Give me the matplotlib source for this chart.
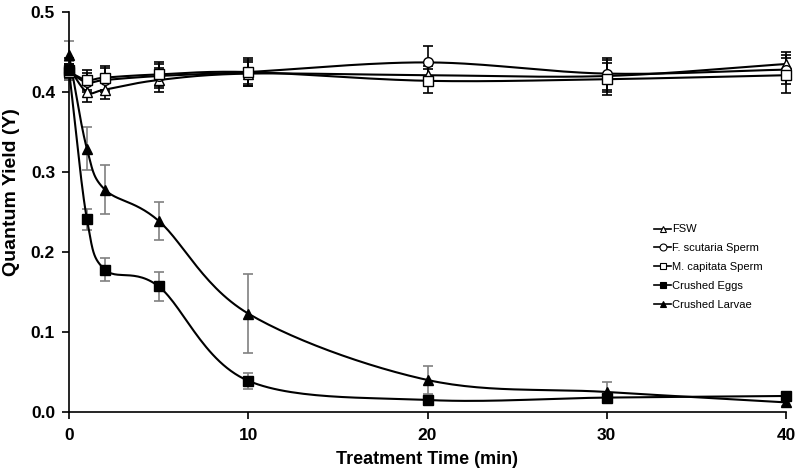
import matplotlib
matplotlib.use("Agg")
import matplotlib.pyplot as plt
import numpy as np

# treatment time (min)
time = [0, 1, 2, 5, 10, 20, 30, 40]

fsw = [0.430, 0.400, 0.403, 0.415, 0.423, 0.421, 0.420, 0.435]
fsw_err = [0.012, 0.012, 0.012, 0.015, 0.015, 0.012, 0.020, 0.015]

fscut = [0.425, 0.412, 0.415, 0.420, 0.425, 0.437, 0.423, 0.428]
fscut_err = [0.010, 0.012, 0.015, 0.015, 0.015, 0.020, 0.020, 0.018]

mcap = [0.425, 0.415, 0.418, 0.422, 0.425, 0.414, 0.416, 0.421]
mcap_err = [0.010, 0.012, 0.015, 0.015, 0.018, 0.015, 0.020, 0.022]

eggs = [0.427, 0.241, 0.178, 0.157, 0.039, 0.015, 0.018, 0.020]
eggs_err = [0.012, 0.013, 0.014, 0.018, 0.010, 0.003, 0.005, 0.003]

larvae = [0.446, 0.329, 0.278, 0.239, 0.123, 0.040, 0.025, 0.012]
larvae_err = [0.018, 0.027, 0.031, 0.024, 0.049, 0.017, 0.012, 0.004]

labels = ["FSW", "F. scutaria Sperm", "M. capitata Sperm", "Crushed Eggs", "Crushed Larvae"]


def smooth(x, y, n=30):
    # catmull-rom style smoothing, like excel's "smoothed line"
    x = np.asarray(x, float)
    y = np.asarray(y, float)
    px = np.concatenate([[2 * x[0] - x[1]], x, [2 * x[-1] - x[-2]]])
    py = np.concatenate([[2 * y[0] - y[1]], y, [2 * y[-1] - y[-2]]])
    xs, ys = [], []
    t = np.linspace(0, 1, n)
    for i in range(1, len(px) - 2):
        p0, p1, p2, p3 = px[i - 1], px[i], px[i + 1], px[i + 2]
        q0, q1, q2, q3 = py[i - 1], py[i], py[i + 1], py[i + 2]
        # bezier control points with tension 1/6
        c1x = p1 + (p2 - p0) / 6
        c2x = p2 - (p3 - p1) / 6
        c1y = q1 + (q2 - q0) / 6
        c2y = q2 - (q3 - q1) / 6
        bx = (1 - t) ** 3 * p1 + 3 * (1 - t) ** 2 * t * c1x + 3 * (1 - t) * t ** 2 * c2x + t ** 3 * p2
        by = (1 - t) ** 3 * q1 + 3 * (1 - t) ** 2 * t * c1y + 3 * (1 - t) * t ** 2 * c2y + t ** 3 * q2
        xs.extend(bx)
        ys.extend(by)
    return xs, ys


plt.rcParams['font.family'] = ['Liberation Sans', 'DejaVu Sans']

fig = plt.figure(figsize=(8, 4.73), dpi=100)
ax = fig.add_axes([0.08625, 0.129, 0.89625, 0.8456])

series = [
    (fsw, fsw_err, '^', 'white', 'black'),
    (fscut, fscut_err, 'o', 'white', 'black'),
    (mcap, mcap_err, 's', 'white', 'black'),
    (eggs, eggs_err, 's', 'black', '#808080'),
    (larvae, larvae_err, '^', 'black', '#808080'),
]

handles = []
for (vals, err, mk, fc, ecol), lab in zip(series, labels):
    ax.errorbar(time, vals, yerr=err, fmt='none', ecolor=ecol, elinewidth=1.2,
                capsize=3.5, capthick=1.2, zorder=2, clip_on=False)
    sx, sy = smooth(time, vals)
    ax.plot(sx, sy, color='black', lw=1.5, zorder=3, clip_on=False)
    ax.plot(time, vals, ls='none', marker=mk, ms=7.5 if mk != 'o' else 7,
            mfc=fc, mec='black', mew=1.0, zorder=4, clip_on=False)
    h, = ax.plot([], [], color='black', lw=1.2, marker=mk, ms=5, mfc=fc, mec='black', mew=0.8)
    handles.append(h)

ax.set_xlim(0, 40)
ax.set_ylim(0, 0.5)
ax.set_xticks([0, 10, 20, 30, 40])
ax.set_yticks([0.0, 0.1, 0.2, 0.3, 0.4, 0.5])
ax.set_yticklabels(["0.0", "0.1", "0.2", "0.3", "0.4", "0.5"])
for s in ['top', 'right']:
    ax.spines[s].set_visible(False)
for s in ['left', 'bottom']:
    ax.spines[s].set_linewidth(1.2)
ax.tick_params(direction='out', length=5, width=1.2, labelsize=12.5)
ax.tick_params(axis='x', pad=6.5)
ax.tick_params(axis='y', pad=5)
for t in ax.get_xticklabels() + ax.get_yticklabels():
    t.set_fontweight('bold')

ax.set_xlabel("Treatment Time (min)", fontsize=13, fontweight='bold', labelpad=6)
ax.set_ylabel("Quantum Yield (Y)", fontsize=14, fontweight='bold')
ax.yaxis.set_label_coords(-0.068, 0.55)

ax.legend(handles, labels, loc='upper left', bbox_to_anchor=(0.81, 0.48), frameon=False,
          fontsize=8, handlelength=1.5, handletextpad=0.1, labelspacing=0.8,
          borderaxespad=0)

fig.savefig("out.png", dpi=100)
